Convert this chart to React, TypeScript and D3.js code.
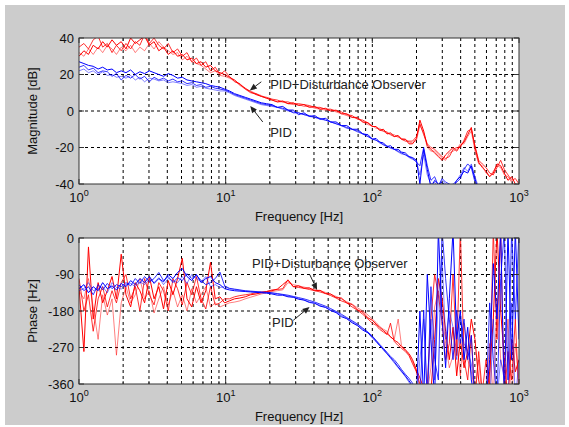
import React from "react";
import * as d3 from "d3";

// ---------- data ----------
const freqHz = [
  1, 1.08, 1.16, 1.25, 1.35, 1.45, 1.56, 1.68, 1.8, 1.94,
  2.09, 2.25, 2.42, 2.6, 2.8, 3.02, 3.25, 3.5, 3.77, 4.06,
  4.37, 4.7, 5.06, 5.45, 5.87, 6.32, 6.8, 7.32, 7.88, 8.49,
  9.14, 9.84, 10.6, 11.5, 12.5, 13.6, 14.8, 16.1, 17.5, 19,
  20.7, 22.5, 24.5, 26.6, 28.9, 31.4, 34.2, 37.2, 40.5, 44,
  47.9, 52, 56.6, 61.5, 66.9, 72.8, 79.1, 86, 93.5, 100,
  106, 112, 119, 126, 133, 141, 150, 158, 168, 178,
  188, 200, 211, 224, 237, 251, 266, 282, 299, 316,
  335, 355, 376, 398, 422, 447, 473, 501, 531, 562,
  596, 631, 668, 708, 750, 794, 841, 891, 944, 1000,
];

// Magnitude [dB], PID + Disturbance Observer (red)
const magDobA = [
  30, 33, 31, 36, 34, 38, 35, 39, 36, 38,
  34, 40, 37, 39, 41, 36, 38, 33, 35, 31,
  33, 30, 31, 28, 29, 26, 27, 24, 25, 22,
  21, 20, 18.5, 17, 14.5, 12.5, 10.5, 9, 8, 7,
  6, 5, 5.5, 4, 4.5, 3, 3.5, 2, 2.5, 1,
  1.5, 0, 0.5, -1.5, -1.5, -3.5, -3.5, -6, -6.5, -8.5,
  -8.5, -10.5, -10, -12.5, -12, -14, -13.5, -15.5, -15.5, -18,
  -18, -15, -5, -11, -19, -21, -23, -25, -27, -24,
  -22, -20, -22, -19, -17, -13, -9, -20, -28, -31,
  -33, -36, -34, -29, -30, -34, -38, -36, -40, -42,
];
const magDobB = [
  35, 37, 34, 39, 41, 35, 37, 32, 36, 33,
  37, 34, 38, 36, 42, 37, 40, 36, 34, 37,
  32, 34, 30, 32, 27, 29, 25, 27, 22, 24,
  20, 22, 19, 16, 15, 12, 10, 9.5, 8, 7.5,
  6.5, 6, 5, 5, 4, 4, 3.5, 3, 2, 2,
  1, 1, 0, -0.5, -2, -2.5, -4.5, -5, -6.5, -8.5,
  -8.5, -10.5, -11, -11.5, -13, -14, -13.5, -15.5, -16.5, -16.5,
  -16.5, -14, -7, -13, -18, -20, -21, -23, -25, -26,
  -25, -21, -20, -20, -16, -11, -10, -19, -27, -29,
  -31, -34, -35, -31, -27, -32, -35, -38, -37, -40,
];
const magDobC = [
  32, 30, 34, 31, 35, 32, 36, 34, 31, 35,
  33, 36, 32, 35, 33, 37, 34, 38, 35, 33,
  31, 32, 28, 30, 27, 26, 25, 23, 21, 22,
  19.5, 19, 18, 16.5, 14, 12, 11, 9.5, 8.5, 7,
  6, 5, 5, 4, 3.5, 3.5, 2.5, 2.5, 1.5, 1,
  0.5, 0.5, -0.5, -1.5, -2.5, -3.5, -4, -6, -7.5, -8,
  -9.5, -9.5, -11, -12.5, -12.5, -13, -14.5, -15, -15.5, -17,
  -17.5, -16, -8, -12, -20, -22, -22, -24, -26, -27,
  -23, -22, -21, -18, -18, -14, -11, -22, -29, -30,
  -34, -36, -33, -30, -31, -35, -36, -39, -41, -42,
];

// Magnitude [dB], PID (blue)
const magPidA = [
  27, 26, 25, 24.5, 23, 24, 22.5, 23, 21, 22,
  21, 22.5, 20, 21.5, 20.5, 22, 21, 20, 19, 20.5,
  19.5, 18, 18.5, 17, 16.5, 16, 15.5, 15, 14, 13.5,
  13, 12, 11, 9.5, 8.5, 7.5, 6.5, 5.5, 4.5, 4,
  3.5, 2, 2.5, 0.5, 0.5, -2, -1, -3, -2.5, -4.5,
  -4, -6, -6, -8, -8, -10, -10, -12.5, -13, -15.5,
  -15, -17, -17.5, -19.5, -19, -21, -21, -22.5, -23, -25,
  -25.5, -27, -40, -21, -32, -42, -38, -40, -39, -41,
  -43, -42, -38, -36, -33, -34, -30, -37, -44, -45,
  -46, -45, -47, -46, -48, -47, -46, -48, -47, -48,
];
const magPidB = [
  24, 25, 22.5, 23.5, 21, 22, 21.5, 19, 20.5, 17,
  19.5, 18, 20, 17.5, 19, 16, 18.5, 17, 18, 16.5,
  17.5, 16, 16.5, 15, 15.5, 14, 14.5, 13, 13.5, 12.5,
  12, 11.5, 10.5, 9, 8, 7, 6, 5, 4, 3.5,
  3, 2, 1.5, 0.5, -1, -1, -2, -2.5, -3.5, -4,
  -5, -6, -7, -8, -9, -10, -11, -12.5, -14, -15.5,
  -16, -17, -18.5, -19.5, -20, -21, -22, -23, -24, -25,
  -26, -28, -30, -20, -30, -38, -36, -41, -37, -39,
  -40, -41, -39, -37, -32, -29, -31, -39, -43, -46,
  -45, -47, -46, -48, -47, -49, -48, -47, -49, -50,
];
const magPidC = [
  22, 23, 21, 22, 20, 21.5, 19.5, 20, 18.5, 19,
  18, 19.5, 17, 18.5, 16, 18, 17.5, 16.5, 17, 15.5,
  16, 15.5, 15, 14, 14.5, 13, 13.5, 12.5, 12, 11.5,
  11, 11, 10, 8.5, 7.5, 6.5, 5.5, 4.5, 3.5, 3,
  2.5, 2, 1, 0, -0.5, -1, -2, -3, -3.5, -4.5,
  -5, -6, -7, -8, -9.5, -10, -11.5, -12.5, -14, -15,
  -16, -17.5, -18.5, -19, -20.5, -21, -22.5, -23.5, -24, -25.5,
  -26.5, -27.5, -35, -24, -35, -40, -39, -42, -38, -40,
  -41, -40, -38, -35, -31, -33, -29, -36, -42, -45,
  -46, -44, -47, -46, -48, -47, -47, -48, -47, -48,
];

// Phase [deg], PID + Disturbance Observer (red)
const phDobA = [
  -120, -280, -22, -200, -110, -160, -130, -95, -150, -40,
  -140, -170, -110, -130, -160, -95, -150, -120, -175, -105,
  -140, -100, -50, -150, -170, -120, -160, -130, -60, -150,
  -145, -160, -155, -150, -148, -145, -140, -138, -135, -132,
  -130, -126, -115, -104, -120, -118, -124, -123, -130, -129,
  -137, -138, -147, -148, -160, -164, -177, -183, -197, -203,
  -212, -220, -228, -236, -243, -252, -258, -268, -276, -285,
  -300, -325, -345, -370, -400, -380, -250, -100, -150, -230,
  -300, -220, -340, -250, -320, -280, -200, -250, -350, -400,
  -400, -330, -200, 20, -180, -300, -400, -250, -330, -300,
];
const phDobB = [
  -100, -180, -140, -230, -150, -120, -170, -130, -160, -110,
  -90, -150, -120, -180, -100, -140, -165, -110, -130, -180,
  -100, -125, -165, -110, -140, -95, -150, -175, -120, -165,
  -160, -150, -150, -145, -142, -140, -138, -135, -133, -132,
  -128, -127, -125, -103, -120, -122, -124, -127, -130, -133,
  -137, -142, -148, -155, -160, -170, -178, -188, -200, -210,
  -215, -225, -232, -238, -210, -255, -265, -272, -280, -290,
  -310, -330, -360, -390, -360, -200, -90, -140, -210, -300,
  -260, -90, -290, 20, -300, -350, -240, -400, -280, -380,
  -300, -360, 20, -250, 20, -400, -280, -350, -200, -400,
];
const phDobC = [
  -130, -150, -100, -170, -250, -140, -190, -150, -289, -160,
  -120, -160, -140, -100, -150, -130, -185, -150, -120, -165,
  -130, -170, -140, -180, -125, -160, -140, -120, -170, -160,
  -170, -165, -160, -158, -155, -150, -146, -142, -138, -135,
  -132, -130, -128, -110, -115, -118, -121, -124, -127, -130,
  -134, -139, -144, -150, -157, -163, -172, -180, -190, -200,
  -208, -218, -225, -230, -245, -250, -200, -265, -275, -290,
  -305, -330, -370, -400, -380, -320, -170, -130, -180, -260,
  -320, -290, -250, -340, -210, -300, -330, -380, -300, -400,
  -380, -260, -400, -150, -300, -340, -200, -400, -260, -350,
];

// Phase [deg], PID (blue)
const phPidA = [
  -125, -115, -135, -120, -130, -110, -125, -118, -128, -112,
  -120, -105, -115, -100, -110, -95, -112, -100, -108, -90,
  -100, -85, -75, -95, -105, -90, -110, -100, -95, -110,
  -115, -125, -128, -130, -131, -132, -133, -134, -135, -136,
  -138, -141, -141, -145, -146, -151, -153, -159, -161, -168,
  -171, -179, -184, -194, -199, -209, -216, -227, -234, -246,
  -255, -265, -275, -285, -295, -305, -318, -328, -340, -352,
  -365, -390, -180, -400, -90, -250, -400, 20, -200, -320,
  -150, 20, -250, -180, -300, -220, -350, -400, -420, -410,
  -400, -300, -63, -200, 20, -400, 20, -300, 20, -250,
];
const phPidB = [
  -115, -130, -120, -140, -115, -128, -112, -125, -115, -120,
  -110, -118, -100, -112, -95, -108, -100, -85, -105, -95,
  -110, -98, -105, -88, -100, -92, -105, -115, -110, -100,
  -84, -118, -124, -126, -128, -130, -131, -132, -133, -134,
  -135, -137, -139, -141, -144, -147, -150, -154, -158, -163,
  -168, -174, -181, -188, -196, -204, -212, -222, -232, -242,
  -252, -262, -272, -282, -292, -300, -312, -324, -336, -346,
  -358, -380, -400, -178, -400, -120, -300, -350, 20, -100,
  -200, -300, -178, -260, -200, -300, -240, -410, -400, -380,
  -410, -160, -300, -400, -100, 20, -350, 20, -200, 20,
];
const phPidC = [
  -130, -125, -110, -130, -125, -120, -135, -110, -122, -126,
  -115, -112, -120, -108, -115, -102, -110, -98, -115, -100,
  -105, -110, -95, -112, -90, -100, -108, -95, -120, -115,
  -122, -120, -125, -127, -129, -131, -132, -133, -134, -135,
  -136, -138, -140, -143, -146, -149, -153, -157, -161, -166,
  -171, -177, -183, -191, -198, -206, -215, -224, -234, -243,
  -254, -264, -276, -286, -296, -308, -320, -330, -342, -356,
  -370, -400, -300, -200, -400, -200, -350, -150, -50, -250,
  -180, -220, -300, -200, -260, -280, -310, -380, -420, -410,
  -400, -420, -200, -400, -300, -350, -400, -160, -400, -300,
];

const magTicks = [40, 20, 0, -20, -40];
const phaseTicks = [0, -90, -180, -270, -360];
const decadeTicks = [1, 10, 100, 1000];

const RED = "#ff0000";
const BLUE = "#0000ff";

// ---------- layout ----------
const W = 569;
const H = 427;
const L = 79;
const R = 519;
const FONT = "'Liberation Sans', Arial, Helvetica, sans-serif";

type Trace = { values: number[]; color: string; opacity: number };
type Note = { text: string; tx: number; ty: number; ax1: number; ay1: number; ax2: number; ay2: number };

function Arrow({ x1, y1, x2, y2 }: { x1: number; y1: number; x2: number; y2: number }) {
  const a = Math.atan2(y2 - y1, x2 - x1);
  const hl = 7;
  const hw = 3;
  const bx = x2 - hl * Math.cos(a);
  const by = y2 - hl * Math.sin(a);
  const p1 = [bx + hw * Math.sin(a), by - hw * Math.cos(a)];
  const p2 = [bx - hw * Math.sin(a), by + hw * Math.cos(a)];
  return (
    <g>
      <line x1={x1} y1={y1} x2={bx} y2={by} stroke="#222" strokeWidth={1} />
      <polygon points={`${x2},${y2} ${p1[0]},${p1[1]} ${p2[0]},${p2[1]}`} fill="#222" />
    </g>
  );
}

function Panel(props: {
  id: string;
  yTop: number;
  yBottom: number;
  yDomain: [number, number];
  yTicks: number[];
  yLabel: string;
  traces: Trace[];
  notes: Note[];
}) {
  const { id, yTop, yBottom, yDomain, yTicks, yLabel, traces, notes } = props;
  const x = d3.scaleLog().domain([1, 1000]).range([L, R]);
  const y = d3.scaleLinear().domain(yDomain).range([yBottom, yTop]);
  const line = d3
    .line<number>()
    .x((_, i) => x(freqHz[i]))
    .y((d) => y(d));
  const allTicks = x.ticks();
  const gridX = allTicks.filter((f) => f > 1 && f < 1000);
  const gridY = yTicks.filter((v) => v !== yDomain[0] && v !== yDomain[1]);
  const isDecade = (f: number) => Math.abs(Math.log10(f) - Math.round(Math.log10(f))) < 1e-9;

  return (
    <g>
      <defs>
        <clipPath id={id}>
          <rect x={L} y={yTop} width={R - L} height={yBottom - yTop} />
        </clipPath>
      </defs>
      <rect x={L} y={yTop} width={R - L} height={yBottom - yTop} fill="#fff" />
      {gridX.map((f) => (
        <line key={"gx" + f} x1={x(f)} x2={x(f)} y1={yTop} y2={yBottom} stroke="#000" strokeWidth={1} strokeDasharray="3,3" />
      ))}
      {gridY.map((v) => (
        <line key={"gy" + v} x1={L} x2={R} y1={y(v)} y2={y(v)} stroke="#000" strokeWidth={1} strokeDasharray="3,3" />
      ))}
      <g clipPath={`url(#${id})`}>
        {traces.map((t, i) => (
          <path key={i} d={line(t.values) || ""} fill="none" stroke={t.color} strokeOpacity={t.opacity} strokeWidth={1} />
        ))}
      </g>
      <rect x={L} y={yTop} width={R - L} height={yBottom - yTop} fill="none" stroke="#333" strokeWidth={1} />
      {allTicks.map((f) => {
        const len = isDecade(f) ? 5 : 3;
        return (
          <g key={"t" + f}>
            <line x1={x(f)} x2={x(f)} y1={yBottom} y2={yBottom - len} stroke="#333" />
            <line x1={x(f)} x2={x(f)} y1={yTop} y2={yTop + len} stroke="#333" />
          </g>
        );
      })}
      {yTicks.map((v) => (
        <g key={"yt" + v}>
          <line x1={L} x2={L + 5} y1={y(v)} y2={y(v)} stroke="#333" />
          <line x1={R} x2={R - 5} y1={y(v)} y2={y(v)} stroke="#333" />
          <text x={L - 5} y={y(v)} dy="0.35em" textAnchor="end" fontSize={13} fill="#111" fontFamily={FONT}>
            {v}
          </text>
        </g>
      ))}
      {decadeTicks.map((f) => (
        <text key={"xl" + f} x={x(f)} y={yBottom + 18} textAnchor="middle" fontSize={13} fill="#111" fontFamily={FONT}>
          10
          <tspan dy={-6} fontSize={9}>
            {Math.round(Math.log10(f))}
          </tspan>
        </text>
      ))}
      <text x={(L + R) / 2} y={yBottom + 37} textAnchor="middle" fontSize={13} fill="#111" fontFamily={FONT}>
        Frequency [Hz]
      </text>
      <text
        transform={`translate(${37},${(yTop + yBottom) / 2}) rotate(-90)`}
        textAnchor="middle"
        fontSize={13}
        fill="#111"
        fontFamily={FONT}
      >
        {yLabel}
      </text>
      {notes.map((n, i) => (
        <g key={"n" + i}>
          <text x={x(n.tx)} y={y(n.ty)} dy="0.35em" fontSize={13} fill="#222" fontFamily={FONT}>
            {n.text}
          </text>
          <Arrow x1={x(n.ax1)} y1={y(n.ay1)} x2={x(n.ax2)} y2={y(n.ay2)} />
        </g>
      ))}
    </g>
  );
}

export default function App() {
  const magTraces: Trace[] = [
    { values: magDobC, color: RED, opacity: 0.5 },
    { values: magDobB, color: RED, opacity: 0.8 },
    { values: magDobA, color: RED, opacity: 1 },
    { values: magPidC, color: BLUE, opacity: 0.5 },
    { values: magPidB, color: BLUE, opacity: 0.8 },
    { values: magPidA, color: BLUE, opacity: 1 },
  ];
  const phTraces: Trace[] = [
    { values: phDobC, color: RED, opacity: 0.5 },
    { values: phDobB, color: RED, opacity: 0.8 },
    { values: phDobA, color: RED, opacity: 1 },
    { values: phPidC, color: BLUE, opacity: 0.5 },
    { values: phPidB, color: BLUE, opacity: 0.8 },
    { values: phPidA, color: BLUE, opacity: 1 },
  ];
  const magNotes: Note[] = [
    { text: "PID+Disturbance Observer", tx: 20.1, ty: 14.8, ax1: 17.5, ay1: 16, ax2: 14.6, ay2: 11.3 },
    { text: "PID", tx: 20.1, ty: -12, ax1: 17.9, ay1: -6, ax2: 14.7, ay2: 2.8 },
  ];
  const phNotes: Note[] = [
    { text: "PID+Disturbance Observer", tx: 15.1, ty: -62, ax1: 37.4, ay1: -90, ax2: 42, ay2: -128 },
    { text: "PID", tx: 20.7, ty: -207, ax1: 28.9, ay1: -203, ax2: 37.3, ay2: -170 },
  ];

  return (
    <svg width={W} height={H} style={{ position: "absolute", left: 0, top: 0 }}>
      <rect x={0} y={0} width={W} height={H} fill="#fff" />
      <rect x={5} y={5} width={560} height={420} fill="#cccccc" />
      <Panel id="clipMag" yTop={38} yBottom={184} yDomain={[-40, 40]} yTicks={magTicks} yLabel="Magnitude [dB]" traces={magTraces} notes={magNotes} />
      <Panel id="clipPh" yTop={238} yBottom={384} yDomain={[-360, 0]} yTicks={phaseTicks} yLabel="Phase [Hz]" traces={phTraces} notes={phNotes} />
    </svg>
  );
}
